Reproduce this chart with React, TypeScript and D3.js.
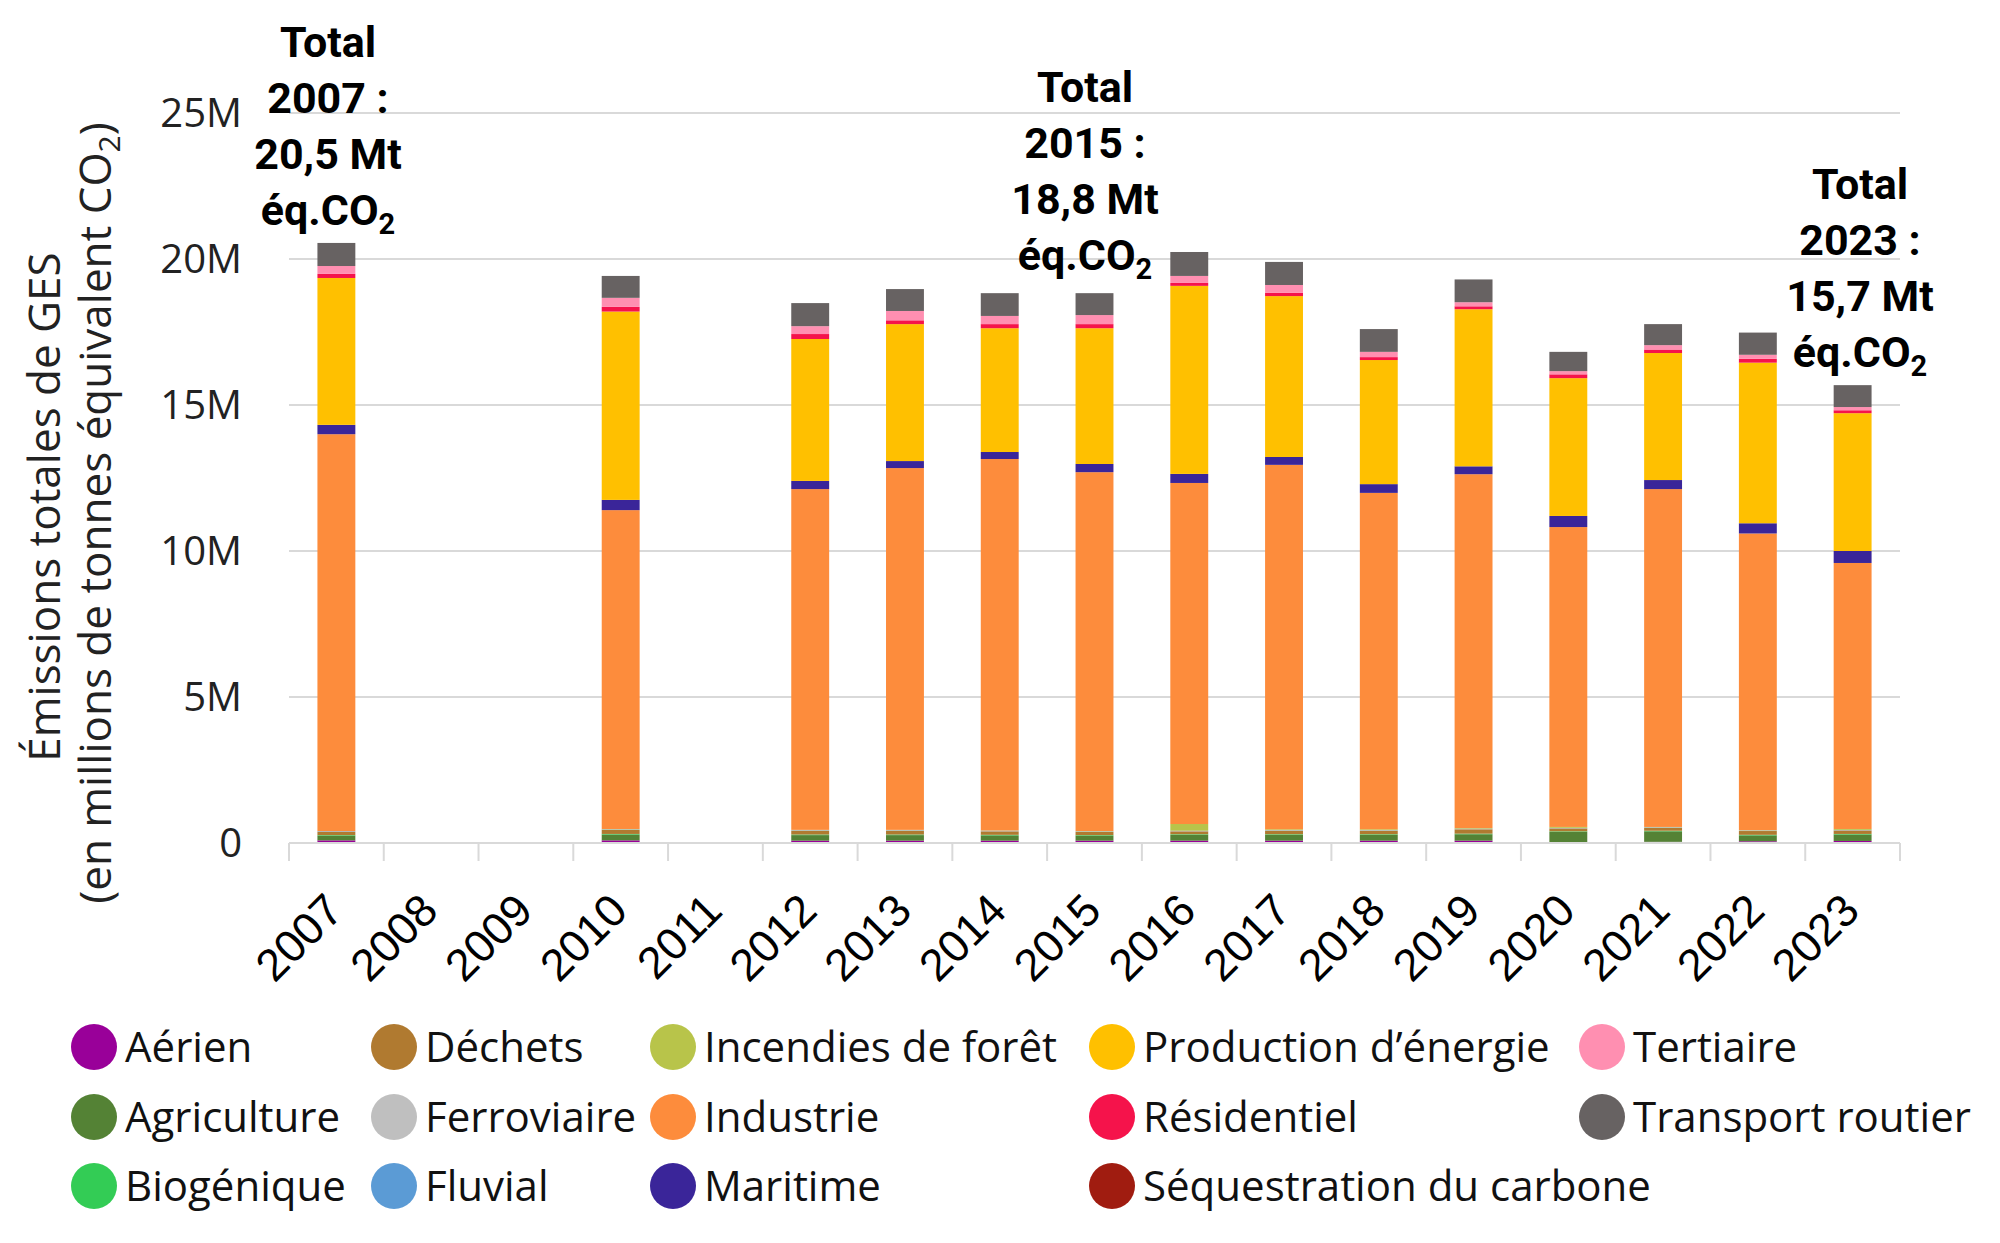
import React from 'react';
import * as d3 from 'd3';

const years = ['2007', '2008', '2009', '2010', '2011', '2012', '2013', '2014', '2015', '2016', '2017', '2018', '2019', '2020', '2021', '2022', '2023'];

// values in millions of tonnes eq. CO2
const aerien = [0.09, 0, 0, 0.09, 0, 0.08, 0.08, 0.08, 0.08, 0.08, 0.08, 0.08, 0.08, 0.03, 0.04, 0.06, 0.07];
const agriculture = [0.16, 0, 0, 0.2, 0, 0.19, 0.19, 0.18, 0.17, 0.2, 0.2, 0.2, 0.22, 0.35, 0.36, 0.2, 0.22];
const biogenique = [0.02, 0, 0, 0.02, 0, 0.02, 0.02, 0.02, 0.02, 0.02, 0.02, 0.02, 0.02, 0.02, 0.02, 0.02, 0.02];
const dechets = [0.12, 0, 0, 0.14, 0, 0.13, 0.13, 0.12, 0.11, 0.1, 0.12, 0.12, 0.15, 0.1, 0.1, 0.13, 0.12];
const ferroviaire = [0.01, 0, 0, 0.01, 0, 0.01, 0.01, 0.01, 0.01, 0.01, 0.01, 0.01, 0.01, 0.01, 0.01, 0.01, 0.01];
const fluvial = [0.01, 0, 0, 0.01, 0, 0.01, 0.01, 0.01, 0.01, 0.01, 0.01, 0.01, 0.01, 0.01, 0.01, 0.01, 0.01];
const incendies = [0, 0, 0, 0.01, 0, 0.01, 0.01, 0.01, 0.01, 0.23, 0.03, 0.03, 0.02, 0.03, 0.01, 0.01, 0.03];
const industrie = [13.59, 0, 0, 10.92, 0, 11.67, 12.39, 12.72, 12.29, 11.68, 12.48, 11.52, 12.12, 10.27, 11.57, 10.16, 9.11];
const maritime = [0.32, 0, 0, 0.35, 0, 0.28, 0.24, 0.24, 0.28, 0.31, 0.27, 0.3, 0.27, 0.38, 0.31, 0.35, 0.41];
const production = [5.03, 0, 0, 6.45, 0, 4.86, 4.69, 4.24, 4.65, 6.44, 5.51, 4.25, 5.38, 4.72, 4.35, 5.5, 4.72];
const residentiel = [0.14, 0, 0, 0.16, 0, 0.17, 0.13, 0.14, 0.14, 0.1, 0.11, 0.1, 0.1, 0.13, 0.12, 0.13, 0.1];
const sequestration = [0, 0, 0, 0, 0, 0, 0, 0, 0, 0, 0, 0, 0, 0, 0, 0, 0];
const tertiaire = [0.27, 0, 0, 0.31, 0, 0.27, 0.32, 0.28, 0.31, 0.24, 0.27, 0.18, 0.14, 0.11, 0.15, 0.14, 0.11];
const transport = [0.79, 0, 0, 0.75, 0, 0.79, 0.75, 0.78, 0.75, 0.82, 0.79, 0.78, 0.78, 0.66, 0.72, 0.76, 0.75];

const sectors = [
  'Aérien', 'Agriculture', 'Biogénique', 'Déchets', 'Ferroviaire', 'Fluvial', 'Incendies de forêt',
  'Industrie', 'Maritime', 'Production d’énergie', 'Résidentiel', 'Séquestration du carbone',
  'Tertiaire', 'Transport routier',
];
const sectorValues = [
  aerien, agriculture, biogenique, dechets, ferroviaire, fluvial, incendies,
  industrie, maritime, production, residentiel, sequestration, tertiaire, transport,
];
const colors = [
  '#990099', '#548235', '#33cc55', '#b07a30', '#bfbfbf', '#5b9bd5', '#b8c44a',
  '#fd8c3c', '#3a2599', '#ffc000', '#f5134b', '#a01c10', '#ff8fb1', '#676262',
];

const yTicks = [0, 5, 10, 15, 20, 25];

const annotations = [
  { year: '2007', lines: ['Total', '2007 :', '20,5 Mt'], x: 328, y: 57 },
  { year: '2015', lines: ['Total', '2015 :', '18,8 Mt'], x: 1085, y: 102 },
  { year: '2023', lines: ['Total', '2023 :', '15,7 Mt'], x: 1860, y: 199 },
];

// legend laid out column by column, 3 rows
const legendCols = [94, 394, 673, 1112, 1602];
const legendRows = [1047, 1117, 1186];

const font = '"Open Sans", sans-serif';

export default function App() {
  const width = 2000;
  const height = 1243;
  const left = 289;
  const right = 1900;
  const top = 113;
  const bottom = 843;

  const x = d3.scaleBand<string>().domain(years).range([left, right]);
  const y = d3.scaleLinear().domain([0, 25]).range([bottom, top]);
  const barW = x.bandwidth() * 0.4;

  const rows = years.map((yr, i) => {
    const r: any = { year: yr };
    sectors.forEach((s, k) => (r[s] = sectorValues[k][i]));
    return r;
  });
  const stacked = d3.stack<any>().keys(sectors)(rows);

  const boundaries = years.map(yr => x(yr) as number).concat([right]);

  return (
    <svg width={width} height={height} style={{ position: 'absolute', left: 0, top: 0, background: '#fff' }}>
      {/* grid */}
      {yTicks.map(t => (
        <g key={t}>
          {t > 0 && <line x1={left} x2={right} y1={y(t)} y2={y(t)} stroke="#d9d9d9" strokeWidth={2} />}
          <text x={242} y={y(t)} dy="0.35em" textAnchor="end" fontFamily={font} fontSize={40} fill="#222">
            {t === 0 ? '0' : `${t}M`}
          </text>
        </g>
      ))}

      {/* bars */}
      {stacked.map((layer, k) => (
        <g key={sectors[k]} fill={colors[k]}>
          {layer.map((d, i) => {
            const h = y(d[0]) - y(d[1]);
            if (h <= 0) return null;
            return (
              <rect
                key={years[i]}
                x={(x(years[i]) as number) + (x.bandwidth() - barW) / 2}
                y={y(d[1])}
                width={barW}
                height={h}
              />
            );
          })}
        </g>
      ))}

      {/* x axis */}
      <line x1={left} x2={right} y1={bottom} y2={bottom} stroke="#d9d9d9" strokeWidth={2} />
      {boundaries.map((bx, i) => (
        <line key={i} x1={bx} x2={bx} y1={bottom} y2={bottom + 18} stroke="#d9d9d9" strokeWidth={2} />
      ))}
      {years.map(yr => {
        const cx = (x(yr) as number) + x.bandwidth() / 2 + 9;
        const cy = bottom + 70;
        return (
          <text
            key={yr}
            transform={`translate(${cx},${cy}) rotate(-45)`}
            textAnchor="end"
            fontFamily='"Liberation Sans", Arial, sans-serif'
            fontSize={45}
            fill="#000"
          >
            {yr}
          </text>
        );
      })}

      {/* y title */}
      <text transform="translate(60,507) rotate(-90)" textAnchor="middle" fontFamily={font} fontSize={44} fill="#222">
        Émissions totales de GES
      </text>
      <text transform="translate(111,513) rotate(-90)" textAnchor="middle" fontFamily={font} fontSize={44} fill="#222">
        (en millions de tonnes équivalent CO<tspan fontSize={30} dy={9}>2</tspan><tspan dy={-9}>)</tspan>
      </text>

      {/* totals */}
      {annotations.map(a => (
        <text key={a.year} textAnchor="middle" fontFamily="Roboto, sans-serif" fontWeight={700} fontSize={43} fill="#000">
          {a.lines.map((l, j) => (
            <tspan key={j} x={a.x} y={a.y + j * 56}>{l}</tspan>
          ))}
          <tspan x={a.x} y={a.y + 3 * 56}>éq.CO<tspan fontSize={29} dy={9}>2</tspan></tspan>
        </text>
      ))}

      {/* legend */}
      {sectors.map((s, k) => {
        const col = Math.floor(k / 3);
        const row = k % 3;
        const cx = legendCols[col];
        const cy = legendRows[row];
        return (
          <g key={s}>
            <circle cx={cx} cy={cy} r={23} fill={colors[k]} />
            <text x={cx + 31} y={cy} dy="0.35em" fontFamily={font} fontSize={42} fill="#111">{s}</text>
          </g>
        );
      })}
    </svg>
  );
}
